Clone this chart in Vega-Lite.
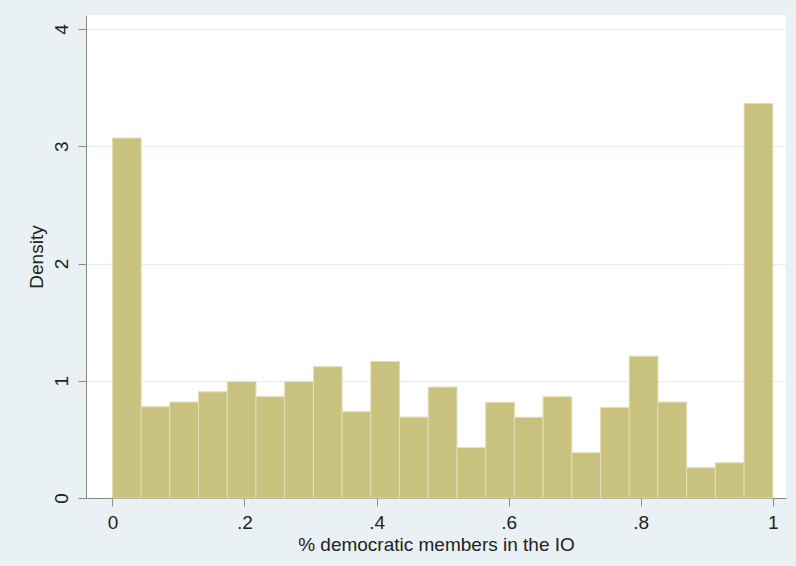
{
  "$schema": "https://vega.github.io/schema/vega-lite/v6.json",
  "autosize": {"type": "none"},
  "width": 700,
  "height": 483,
  "padding": {"left": 86, "top": 15, "right": 10, "bottom": 68},
  "background": "#eaf1f4",
  "config": {
    "view": {"fill": "white", "stroke": null},
    "font": "Liberation Sans"
  },
  "data": {
    "values": [
      {"bin": 0, "density": 3.07},
      {"bin": 1, "density": 0.778},
      {"bin": 2, "density": 0.818},
      {"bin": 3, "density": 0.906},
      {"bin": 4, "density": 0.992},
      {"bin": 5, "density": 0.864},
      {"bin": 6, "density": 0.992},
      {"bin": 7, "density": 1.12},
      {"bin": 8, "density": 0.736},
      {"bin": 9, "density": 1.165},
      {"bin": 10, "density": 0.69},
      {"bin": 11, "density": 0.946},
      {"bin": 12, "density": 0.429},
      {"bin": 13, "density": 0.816},
      {"bin": 14, "density": 0.688},
      {"bin": 15, "density": 0.864},
      {"bin": 16, "density": 0.386},
      {"bin": 17, "density": 0.773},
      {"bin": 18, "density": 1.21},
      {"bin": 19, "density": 0.818},
      {"bin": 20, "density": 0.258},
      {"bin": 21, "density": 0.30},
      {"bin": 22, "density": 3.365}
    ]
  },
  "transform": [
    {"calculate": "datum.bin / 23", "as": "start"},
    {"calculate": "(datum.bin + 1) / 23", "as": "end"}
  ],
  "mark": {"type": "rect", "fill": "#c9c27f", "stroke": "#e2ddb4", "strokeWidth": 1},
  "encoding": {
    "x": {
      "field": "start",
      "type": "quantitative",
      "scale": {"domain": [-0.04, 1.02], "nice": false, "zero": false},
      "axis": {
        "title": "% democratic members in the IO",
        "values": [0, 0.2, 0.4, 0.6, 0.8, 1],
        "labelExpr": "datum.value == 0 ? '0' : datum.value == 1 ? '1' : '.' + format(datum.value * 10, 'd')",
        "grid": false,
        "domainColor": "#8a8a8a",
        "tickColor": "#8a8a8a",
        "tickSize": 8,
        "labelFontSize": 19,
        "labelColor": "#222222",
        "labelPadding": 7,
        "titleFontSize": 19,
        "titleFontWeight": "normal",
        "titleColor": "#222222",
        "titlePadding": 3
      }
    },
    "x2": {"field": "end"},
    "y": {
      "field": "density",
      "type": "quantitative",
      "scale": {"domain": [0, 4.12], "nice": false},
      "axis": {
        "title": "Density",
        "values": [0, 1, 2, 3, 4],
        "labelAngle": -90,
        "labelAlign": "center",
        "labelBaseline": "bottom",
        "grid": true,
        "gridColor": "#e4eef1",
        "domainColor": "#8a8a8a",
        "tickColor": "#8a8a8a",
        "tickSize": 8,
        "labelFontSize": 19,
        "labelColor": "#222222",
        "labelPadding": 7,
        "titleFontSize": 19,
        "titleFontWeight": "normal",
        "titleColor": "#222222",
        "titlePadding": 6
      }
    },
    "y2": {"datum": 0}
  }
}
